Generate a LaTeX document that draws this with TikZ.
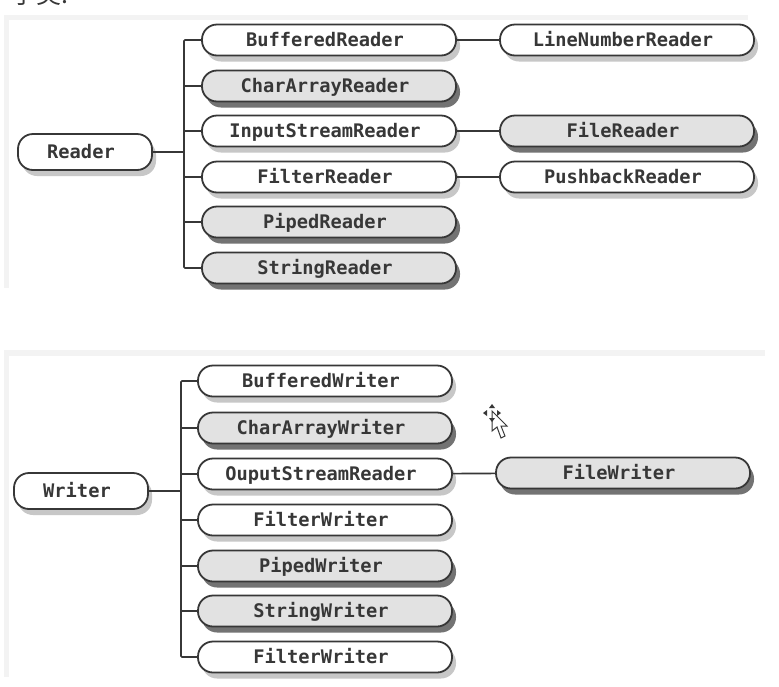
\documentclass[tikz,border=0pt]{standalone}
\usepackage{fontspec}
\setmonofont{DejaVu Sans Mono}
\newfontfamily\cjk{Noto Sans CJK SC}
\usetikzlibrary{shadows}
\definecolor{ink}{RGB}{55,55,55}
\definecolor{shade}{RGB}{226,226,226}
\definecolor{panel}{RGB}{243,243,243}
\tikzset{
  classbox/.style={draw=ink,line width=1.8pt,rounded corners=15pt,fill=#1,text=ink,
    minimum width=254pt,minimum height=31pt,inner sep=0pt,text height=14pt,text depth=2pt,
    font=\fontsize{18.7}{20}\ttfamily\bfseries,execute at end node={\hspace{8pt}}},
  plainbox/.style={classbox=white,
    drop shadow={shadow xshift=4pt,shadow yshift=-6pt,fill=black!22,opacity=1}},
  greybox/.style={classbox=shade,
    drop shadow={shadow xshift=4pt,shadow yshift=-6pt,fill=black!55,opacity=1}},
  rootbox/.style={plainbox,minimum width=134pt,minimum height=36pt},
  link/.style={draw=ink,line width=1.6pt},
  strip/.style={fill=panel},
}
\begin{document}
\begin{tikzpicture}[x=1pt,y=-1pt]
    \useasboundingbox (0,0) rectangle (779,686);
    \clip (0,0) rectangle (779,686);
    \fill[white] (0,0) rectangle (779,686);
    \node[anchor=base west,font=\fontsize{25}{28}\cjk,text=ink,inner sep=0pt] (heading) at (11,3) {子类:};
    % panel edges
    \fill[strip] (4,15) rectangle (748,20);
    \fill[strip] (4,15) rectangle (9,288);
    \fill[strip] (4,350) rectangle (765,356);
    \fill[strip] (4,350) rectangle (9,677);
    % reader tree
    \node[rootbox] (reader) at (85,152) {Reader};
    \coordinate (rtrunk) at (184,152);
    \draw[link] (reader) -- (rtrunk);
    \foreach \t/\s/\y [count=\i] in {
      BufferedReader/plainbox/40,
      CharArrayReader/greybox/86,
      InputStreamReader/plainbox/131,
      FilterReader/plainbox/177,
      PipedReader/greybox/222,
      StringReader/greybox/268}
    {
      \node[\s] (r\i) at (329,\y) {\t};
      \draw[link,rounded corners=1pt] (rtrunk) |- (r\i.west);
    }
    \node[plainbox] (lnr) at (627,40) {LineNumberReader};
    \node[greybox] (fr) at (627,131) {FileReader};
    \node[plainbox] (pbr) at (627,177) {PushbackReader};
    \draw[link] (r1) -- (lnr);
    \draw[link] (r3) -- (fr);
    \draw[link] (r4) -- (pbr);
    % writer tree
    \node[rootbox] (writer) at (81,491) {Writer};
    \coordinate (wtrunk) at (181,491);
    \draw[link] (writer) -- (wtrunk);
    \foreach \t/\s/\y [count=\i] in {
      BufferedWriter/plainbox/381,
      CharArrayWriter/greybox/428,
      OuputStreamReader/plainbox/474,
      FilterWriter/plainbox/520,
      PipedWriter/greybox/566,
      StringWriter/greybox/611,
      FilterWriter/plainbox/657}
    {
      \node[\s] (w\i) at (325,\y) {\t};
      \draw[link,rounded corners=1pt] (wtrunk) |- (w\i.west);
    }
    \node[greybox] (fw) at (623,473) {FileWriter};
    \draw[link] (w3) -- (fw);
    % cursor
    \draw[fill=white,draw=ink,line width=1pt] (492,411) -- (492,431) -- (497,427) -- (501,438) -- (505,436) -- (501,426) -- (507,426) -- cycle;
    \foreach \a in {0,90,180,270}
      \fill[ink,shift={(492,413)},rotate=\a] (9,0) -- (5,-3) -- (5,3) -- cycle;
\end{tikzpicture}
\end{document}
